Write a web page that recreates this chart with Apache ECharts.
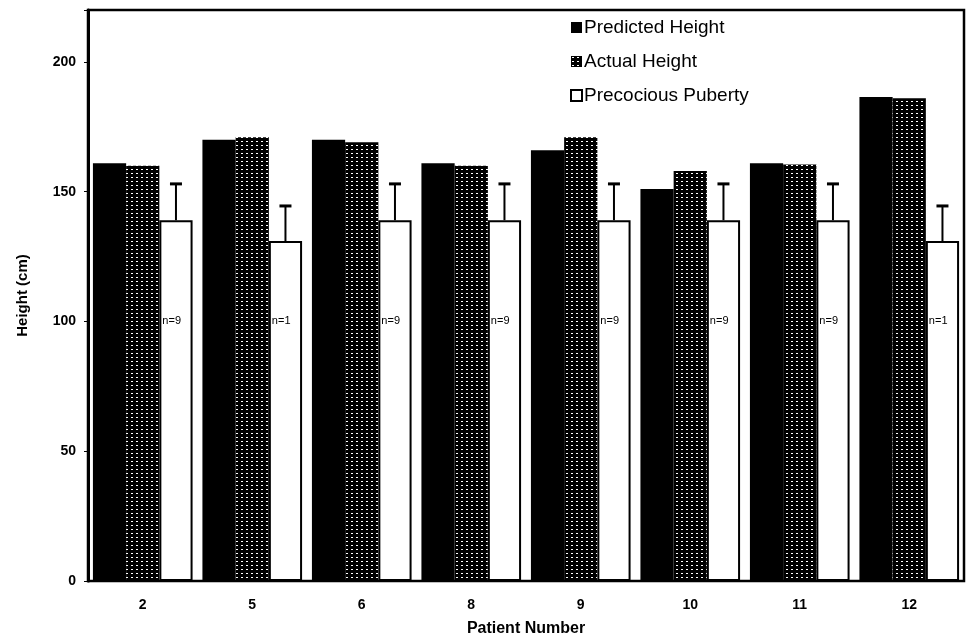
<!DOCTYPE html>
<html>
<head>
<meta charset="utf-8">
<script src="https://cdn.jsdelivr.net/npm/echarts@6/dist/echarts.min.js"></script>
<style>html,body{margin:0;padding:0;background:#fff}#c{width:971px;height:639px}</style>
</head>
<body>
<div id="c"></div>
<script>
var categories = ['2', '5', '6', '8', '9', '10', '11', '12'];
var predicted = [161, 170, 170, 161, 166, 151, 161, 186.5];
var actual = [160, 171, 169, 160, 171, 158, 160.5, 186];
var precocious = [139, 131, 139, 139, 139, 139, 139, 131];
var precociousSD = [14, 13.5, 14, 14, 14, 14, 14, 13.5];
var nLabels = ['n=9', 'n=1', 'n=9', 'n=9', 'n=9', 'n=9', 'n=9', 'n=1'];
var yTicks = [0, 50, 100, 150, 200];

var pc = document.createElement('canvas');
pc.width = 5; pc.height = 4;
var ctx = pc.getContext('2d');
ctx.fillStyle = '#000'; ctx.fillRect(0, 0, 5, 4);
ctx.fillStyle = '#fff'; ctx.fillRect(1, 1, 2, 1);
var pattern = { image: pc, repeat: 'repeat' };

var CAT_GAP = 0.09;
var FONT = 'Liberation Sans, Arial, sans-serif';

var errData = categories.map(function (c, i) {
  return [i, precocious[i], precociousSD[i], nLabels[i]];
});

var chart = echarts.init(document.getElementById('c'), null, { renderer: 'canvas' });
chart.setOption({
  animation: false,
  backgroundColor: '#fff',
  grid: { left: 88, right: 7, top: 10, bottom: 58, show: true, borderColor: '#000', borderWidth: 2.5, containLabel: false, outerBoundsMode: 'none' },
  legend: {
    orient: 'vertical', left: 565, top: 13, itemGap: 15,
    itemWidth: 11, itemHeight: 11, icon: 'rect',
    textStyle: { fontSize: 19, color: '#000', fontFamily: FONT, padding: [0, 0, 0, -3] },
    data: ['Predicted Height', 'Actual Height', 'Precocious Puberty']
  },
  xAxis: {
    type: 'category', data: categories,
    name: 'Patient Number', nameLocation: 'middle', nameGap: 40,
    nameTextStyle: { fontSize: 16, fontWeight: 'bold', color: '#000', fontFamily: FONT },
    axisLine: { lineStyle: { color: '#000', width: 2 } },
    axisTick: { show: false },
    axisLabel: { fontSize: 14, fontWeight: 'bold', color: '#000', margin: 17, fontFamily: FONT }
  },
  yAxis: {
    type: 'value', min: 0, max: 220, interval: 50,
    name: 'Height (cm)', nameLocation: 'middle', nameGap: 58,
    nameTextStyle: { fontSize: 15, fontWeight: 'bold', color: '#000', fontFamily: FONT },
    axisLine: { show: true, lineStyle: { color: '#000', width: 3 } },
    axisTick: { show: true, length: 4, lineStyle: { color: '#000' } },
    splitLine: { show: false },
    axisLabel: {
      fontSize: 14, fontWeight: 'bold', color: '#000', margin: 12, fontFamily: FONT,
      formatter: function (v) { return yTicks.indexOf(v) >= 0 ? String(v) : ''; }
    }
  },
  series: [
    {
      name: 'Predicted Height', type: 'bar', data: predicted,
      barGap: '0%', barCategoryGap: (CAT_GAP * 100) + '%',
      itemStyle: { color: '#000' }
    },
    {
      name: 'Actual Height', type: 'bar', data: actual,
      barGap: '0%', barCategoryGap: (CAT_GAP * 100) + '%',
      itemStyle: { color: pattern }
    },
    {
      name: 'Precocious Puberty', type: 'bar', data: precocious,
      barGap: '0%', barCategoryGap: (CAT_GAP * 100) + '%',
      itemStyle: { color: '#fff', borderColor: '#000', borderWidth: 2 }
    },
    {
      type: 'custom', data: errData, z: 10, silent: true,
      encode: { x: 0, y: [1] },
      renderItem: function (params, api) {
        var i = api.value(0), v = api.value(1), sd = api.value(2);
        var band = api.size([1, 0])[0];
        var bw = band * (1 - CAT_GAP) / 3;
        var c = api.coord([i, v]);
        var cx = c[0] + bw;
        var top = api.coord([i, v + sd]);
        var lab = api.coord([i, 100]);
        var txt = nLabels[params.dataIndex];
        return {
          type: 'group',
          children: [
            { type: 'line', shape: { x1: cx, y1: c[1], x2: cx, y2: top[1] }, style: { stroke: '#000', lineWidth: 2 } },
            { type: 'line', shape: { x1: cx - 6, y1: top[1], x2: cx + 6, y2: top[1] }, style: { stroke: '#000', lineWidth: 3 } },
            { type: 'text', x: cx - bw / 2 + 3, y: lab[1], style: { text: txt, fontSize: 11, fill: '#000', fontFamily: FONT, verticalAlign: 'middle', align: 'left' } }
          ]
        };
      }
    }
  ]
});
</script>
</body>
</html>
